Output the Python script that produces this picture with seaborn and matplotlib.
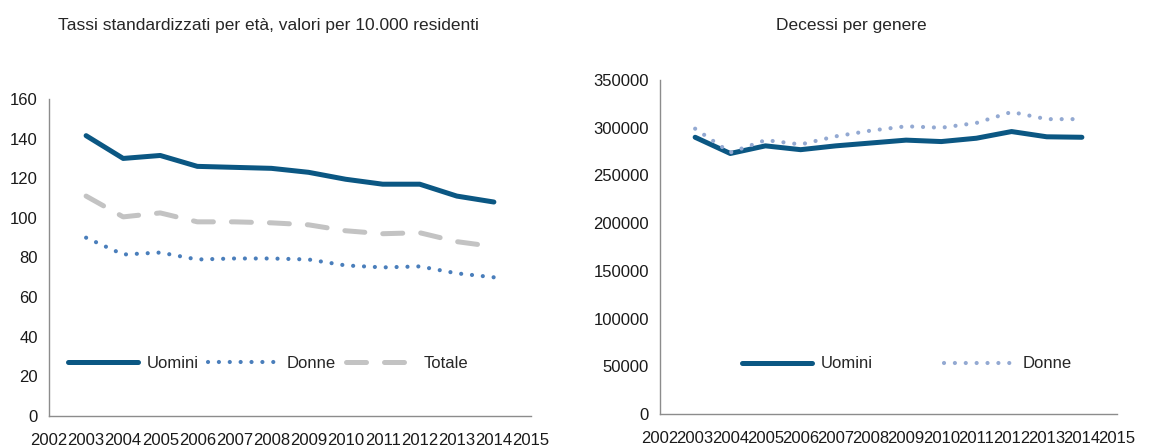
import pandas as pd
import matplotlib.pyplot as plt
import seaborn as sns

# data
anni = [2003, 2004, 2005, 2006, 2007, 2008, 2009, 2010, 2011, 2012, 2013, 2014]

tassi_uomini = [141.5, 130, 131.5, 126, 125.5, 125, 123, 119.5, 117, 117, 111, 108]
tassi_donne = [90, 81.5, 82.5, 79, 79.5, 79.5, 79, 76, 75, 75.5, 72, 70]
tassi_totale = [111, 100.5, 102.5, 98, 98, 97.5, 96.5, 93.5, 92, 92.5, 88, 85.5]

decessi_uomini = [290000, 273000, 281000, 277000, 281000, 284000, 287000, 285500, 289000, 296000, 290500, 290000]
decessi_donne = [299000, 274000, 287000, 282500, 291000, 297000, 301500, 300000, 305000, 316500, 309000, 309000]

x_ticks = list(range(2002, 2016))

sns.set_style("white")
plt.rcParams['font.family'] = ['Liberation Sans', 'DejaVu Sans']

blu = '#0b5783'
blu_chiaro = '#4a7ebb'
blu_pallido = '#93a9d2'
grigio = '#c3c3c3'
asse = '#8c8c8c'

fig = plt.figure(figsize=(11.51, 4.47), dpi=100)
ax1 = fig.add_axes([0.0426, 0.0694, 0.4187, 0.7091])
ax2 = fig.add_axes([0.5734, 0.0738, 0.3971, 0.7472])

# left panel
sns.lineplot(x=anni, y=tassi_uomini, ax=ax1, color=blu, lw=3.6, label='Uomini', solid_capstyle='round')
sns.lineplot(x=anni, y=tassi_donne, ax=ax1, color=blu_chiaro, lw=3.0, label='Donne',
             linestyle=(0, (0.01, 2.6)), dash_capstyle='round')
sns.lineplot(x=anni, y=tassi_totale, ax=ax1, color=grigio, lw=3.6, label='Totale',
             linestyle=(0, (4.0, 3.6)), dash_capstyle='round')
ax1.set_ylim(0, 160)
ax1.set_yticks(range(0, 161, 20))
ax1.set_title('Tassi standardizzati per età, valori per 10.000 residenti', fontsize=12.5, pad=50, x=0.455)

# right panel
sns.lineplot(x=anni, y=decessi_uomini, ax=ax2, color=blu, lw=3.6, label='Uomini', solid_capstyle='round')
sns.lineplot(x=anni, y=decessi_donne, ax=ax2, color=blu_pallido, lw=3.0, label='Donne',
             linestyle=(0, (0.01, 2.6)), dash_capstyle='round')
ax2.set_ylim(0, 350000)
ax2.set_yticks(range(0, 350001, 50000))
ax2.set_title('Decessi per genere', fontsize=12.5, pad=36, x=0.418)

for ax in (ax1, ax2):
    ax.set_xlim(2002, 2015)
    ax.set_xticks(x_ticks)
    ax.set_xlabel('')
    ax.set_ylabel('')
    for s in ('top', 'right'):
        ax.spines[s].set_visible(False)
    for s in ('left', 'bottom'):
        ax.spines[s].set_color(asse)
        ax.spines[s].set_linewidth(1.0)
    ax.tick_params(axis='both', direction='out', length=5, width=1, color=asse,
                   labelcolor='#1a1a1a', labelsize=12, pad=3)
    ax.tick_params(axis='x', pad=7)

leg1 = ax1.legend(loc='center', bbox_to_anchor=(0.455, 0.165), ncol=3, frameon=False,
                  handlelength=4.2, handletextpad=0.5, columnspacing=0.6, fontsize=12)
leg2 = ax2.legend(loc='center', bbox_to_anchor=(0.54, 0.15), ncol=2, frameon=False,
                  handlelength=4.2, handletextpad=0.5, columnspacing=4.3, fontsize=12)

fig.savefig('out.png', dpi=100)
